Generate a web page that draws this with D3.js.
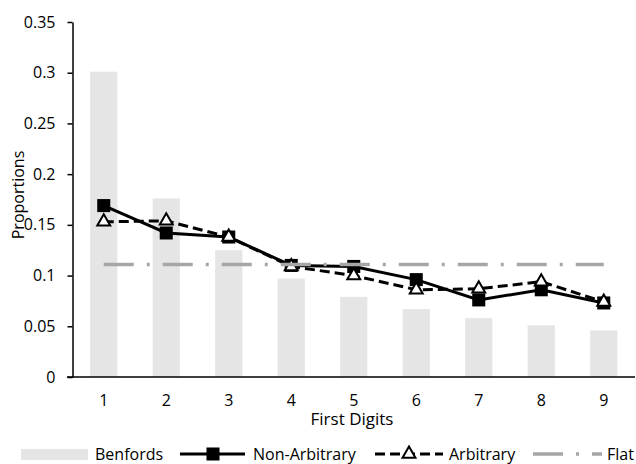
<!DOCTYPE html>
<html>
<head>
<meta charset="utf-8">
<script src="https://cdn.jsdelivr.net/npm/d3@7"></script>
<style>
  html, body { margin: 0; padding: 0; background: #fff; }
  svg { display: block; }
  text { font-family: "Open Sans", sans-serif; fill: #000; }
</style>
</head>
<body>
<svg id="chart" width="636" height="464"></svg>
<script>
const categories = [1, 2, 3, 4, 5, 6, 7, 8, 9];
const benfords = [0.301, 0.176, 0.125, 0.097, 0.079, 0.067, 0.058, 0.051, 0.046];
const nonArbitrary = [0.169, 0.142, 0.138, 0.110, 0.109, 0.096, 0.076, 0.086, 0.073];
const arbitrary = [0.153, 0.154, 0.138, 0.109, 0.100, 0.086, 0.087, 0.094, 0.074];
const flat = [0.111, 0.111, 0.111, 0.111, 0.111, 0.111, 0.111, 0.111, 0.111];
const yTicks = [0, 0.05, 0.1, 0.15, 0.2, 0.25, 0.3, 0.35];
const yTickLabels = ["0", "0.05", "0.1", "0.15", "0.2", "0.25", "0.3", "0.35"];
const seriesNames = ["Benfords", "Non-Arbitrary", "Arbitrary", "Flat"];
const xTitle = "First Digits";
const yTitle = "Proportions";

const svg = d3.select("#chart");

const x = d3.scaleBand().domain(categories).range([72.5, 635])
  .paddingInner(0.565).paddingOuter(0.2825);
const y = d3.scaleLinear().domain([0, 0.35]).range([377, 22]);
const cx = d => x(d) + x.bandwidth() / 2;

// bars
svg.append("g").selectAll("rect").data(categories).join("rect")
  .attr("x", d => x(d))
  .attr("y", (d, i) => y(benfords[i]))
  .attr("width", x.bandwidth())
  .attr("height", (d, i) => y(0) - y(benfords[i]))
  .attr("fill", "#e5e5e5");

// y axis
const yAxis = svg.append("g").attr("transform", "translate(72.5,0)")
  .call(d3.axisLeft(y).tickValues(yTicks).tickSize(5).tickSizeOuter(0).tickPadding(12)
    .tickFormat((d, i) => yTickLabels[i]));
yAxis.selectAll("path, line").attr("stroke", "#000").attr("stroke-width", 1.5);
yAxis.selectAll("text").style("font-size", "16px").style("font-family", '"Open Sans", sans-serif').attr("fill", "#000");

// x axis
const xAxis = svg.append("g").attr("transform", "translate(0,377)")
  .call(d3.axisBottom(x).tickSize(0).tickPadding(18));
xAxis.select(".domain").remove();
xAxis.selectAll("text").style("font-size", "16px").style("font-family", '"Open Sans", sans-serif').attr("fill", "#000");
svg.append("line").attr("x1", 67).attr("x2", 635).attr("y1", 377).attr("y2", 377)
  .attr("stroke", "#000").attr("stroke-width", 1.5);

// lines
const line = d3.line().x((d, i) => cx(categories[i])).y(d => y(d));

svg.append("path").datum(nonArbitrary).attr("d", line)
  .attr("fill", "none").attr("stroke", "#000").attr("stroke-width", 3);
svg.append("g").selectAll("path").data(nonArbitrary).join("path")
  .attr("d", d3.symbol(d3.symbolSquare, 170)())
  .attr("transform", (d, i) => `translate(${cx(categories[i])},${y(d)})`)
  .attr("fill", "#000");

svg.append("path").datum(arbitrary).attr("d", line)
  .attr("fill", "none").attr("stroke", "#000").attr("stroke-width", 3)
  .attr("stroke-dasharray", "10,5");
svg.append("g").selectAll("path").data(arbitrary).join("path")
  .attr("d", d3.symbol(d3.symbolTriangle, 72)())
  .attr("transform", (d, i) => `translate(${cx(categories[i])},${y(d)})`)
  .attr("fill", "#fff").attr("stroke", "#000").attr("stroke-width", 2);

svg.append("path").datum(flat).attr("d", line)
  .attr("fill", "none").attr("stroke", "#a6a6a6").attr("stroke-width", 3.5)
  .attr("stroke-dasharray", "30,13,3,13");

// titles
svg.append("text").attr("x", 352).attr("y", 419).attr("dy", "0.35em")
  .attr("text-anchor", "middle").style("font-size", "17px").text(xTitle);
svg.append("text").attr("transform", "translate(18,195) rotate(-90)")
  .attr("dy", "0.35em").attr("text-anchor", "middle").style("font-size", "16px").text(yTitle);

// legend
const ly = 454;
const lg = svg.append("g");
lg.append("rect").attr("x", 21).attr("y", 449).attr("width", 67).attr("height", 11).attr("fill", "#e5e5e5");
lg.append("text").attr("x", 95).attr("y", ly).attr("dy", "0.35em").style("font-size", "16px").text(seriesNames[0]);

lg.append("line").attr("x1", 180).attr("x2", 245).attr("y1", ly).attr("y2", ly)
  .attr("stroke", "#000").attr("stroke-width", 3);
lg.append("path").attr("d", d3.symbol(d3.symbolSquare, 170)()).attr("transform", `translate(213,${ly})`).attr("fill", "#000");
lg.append("text").attr("x", 253).attr("y", ly).attr("dy", "0.35em").style("font-size", "16px").text(seriesNames[1]);

lg.append("line").attr("x1", 375).attr("x2", 443).attr("y1", ly).attr("y2", ly)
  .attr("stroke", "#000").attr("stroke-width", 3).attr("stroke-dasharray", "10,5");
lg.append("path").attr("d", d3.symbol(d3.symbolTriangle, 72)()).attr("transform", `translate(409,${ly})`)
  .attr("fill", "#fff").attr("stroke", "#000").attr("stroke-width", 2);
lg.append("text").attr("x", 449).attr("y", ly).attr("dy", "0.35em").style("font-size", "16px").text(seriesNames[2]);

lg.append("line").attr("x1", 533).attr("x2", 602).attr("y1", ly).attr("y2", ly)
  .attr("stroke", "#a6a6a6").attr("stroke-width", 3.5).attr("stroke-dasharray", "30,13,3,13");
lg.append("text").attr("x", 607).attr("y", ly).attr("dy", "0.35em").style("font-size", "16px").text(seriesNames[3]);
</script>
</body>
</html>
